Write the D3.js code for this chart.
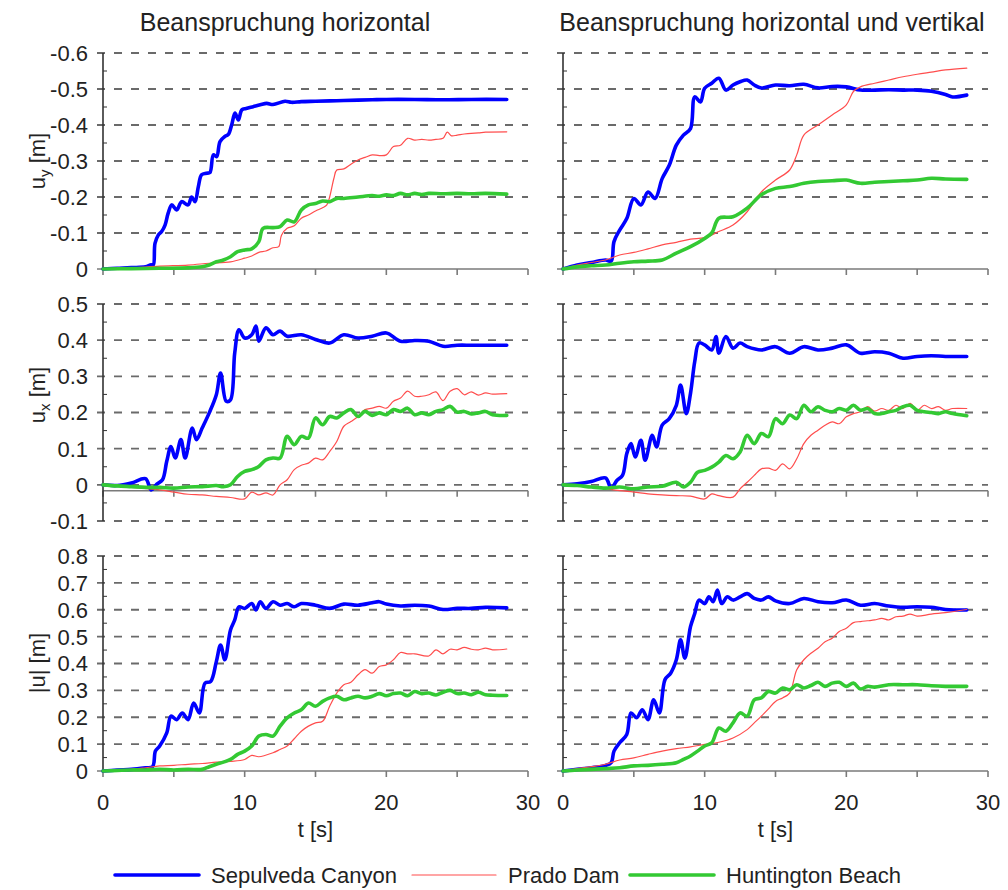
<!DOCTYPE html>
<html>
<head>
<meta charset="utf-8">
<script src="https://cdn.jsdelivr.net/npm/d3@7"></script>
<style>
  body { margin: 0; background: #fff; }
  svg { font-family: "Liberation Sans", Arial, sans-serif; }
</style>
</head>
<body>
<svg width="1008" height="890"></svg>
<script>
// the svg canvas
const svg = d3.select('svg');

// tick values
const tTicks = [0, 5, 10, 15, 20, 25, 30];
const tLabels = [0, 10, 20, 30];
const uyTicks = [0, -0.1, -0.2, -0.3, -0.4, -0.5, -0.6];
const uxTicks = [-0.1, 0, 0.1, 0.2, 0.3, 0.4, 0.5];
const uTicks = [0, 0.1, 0.2, 0.3, 0.4, 0.5, 0.6, 0.7, 0.8];

const seriesNames = ['Sepulveda Canyon', 'Prado Dam', 'Huntington Beach'];
const colTitles = ['Beanspruchung horizontal', 'Beanspruchung horizontal und vertikal'];

// [t, value] pairs
// u_y, horizontal
const uyH_sep = [[0,0],[1,-0.002],[2,-0.004],[3,-0.006],[3.4,-0.012],[3.55,-0.011],[3.67,-0.071],[3.9,-0.094],[4.14,-0.104],[4.38,-0.122],[4.6,-0.155],[4.85,-0.178],[5.2,-0.164],[5.55,-0.187],[6.0,-0.178],[6.26,-0.2],[6.5,-0.187],[6.73,-0.229],[6.96,-0.262],[7.3,-0.266],[7.55,-0.268],[7.79,-0.317],[8.02,-0.312],[8.26,-0.354],[8.6,-0.368],[8.85,-0.374],[9.08,-0.4],[9.32,-0.433],[9.55,-0.414],[9.8,-0.442],[10.1,-0.446],[10.6,-0.451],[11.1,-0.456],[11.55,-0.46],[12,-0.457],[12.85,-0.466],[13.3,-0.463],[14,-0.465],[15,-0.466],[16,-0.467],[17,-0.468],[18,-0.469],[19,-0.47],[20,-0.471],[22,-0.471],[24,-0.47],[26,-0.471],[28.5,-0.471]];
const uyH_prado = [[0,0],[2,-0.003],[4,-0.008],[6,-0.011],[7.5,-0.016],[9,-0.02],[10,-0.03],[10.5,-0.036],[11,-0.046],[11.5,-0.05],[12,-0.059],[12.4,-0.062],[12.6,-0.094],[13,-0.113],[13.5,-0.12],[14,-0.141],[14.5,-0.15],[15,-0.161],[15.5,-0.17],[15.8,-0.178],[16,-0.2],[16.3,-0.252],[16.5,-0.275],[17,-0.278],[17.5,-0.291],[18,-0.303],[18.5,-0.31],[19,-0.317],[19.5,-0.315],[20,-0.317],[20.5,-0.34],[21,-0.344],[21.5,-0.363],[22,-0.358],[22.5,-0.36],[23,-0.358],[23.5,-0.36],[24,-0.363],[24.3,-0.38],[24.6,-0.37],[25,-0.372],[25.5,-0.375],[26,-0.377],[26.5,-0.378],[27,-0.38],[28.5,-0.381]];
const uyH_hunt = [[0,0],[2,-0.001],[4,-0.002],[6,-0.003],[7,-0.006],[7.5,-0.011],[8,-0.02],[8.5,-0.025],[9,-0.034],[9.5,-0.048],[10,-0.053],[10.5,-0.056],[11,-0.076],[11.3,-0.113],[12,-0.115],[12.5,-0.118],[13,-0.136],[13.5,-0.131],[14,-0.164],[14.5,-0.178],[15,-0.182],[15.5,-0.189],[16,-0.187],[16.5,-0.196],[17,-0.196],[18,-0.2],[19,-0.204],[19.5,-0.202],[20,-0.206],[20.5,-0.204],[21,-0.21],[21.5,-0.206],[22,-0.21],[22.5,-0.207],[23,-0.21],[24,-0.209],[25,-0.21],[26,-0.209],[27,-0.21],[28.5,-0.208]];

// u_y, horizontal und vertikal
const uyHV_sep = [[0,0],[1,-0.011],[2,-0.018],[3,-0.025],[3.4,-0.022],[3.6,-0.076],[4,-0.108],[4.5,-0.14],[5,-0.196],[5.5,-0.178],[6,-0.214],[6.5,-0.196],[7,-0.251],[7.5,-0.288],[8,-0.344],[8.5,-0.372],[9,-0.39],[9.3,-0.478],[9.7,-0.464],[10,-0.502],[10.5,-0.516],[11,-0.53],[11.5,-0.497],[12,-0.511],[12.5,-0.52],[13,-0.525],[13.5,-0.511],[14,-0.503],[15,-0.511],[16,-0.509],[17,-0.513],[18,-0.503],[19,-0.507],[20,-0.506],[21,-0.497],[22,-0.497],[23,-0.498],[24,-0.497],[25,-0.497],[26,-0.494],[27,-0.485],[27.5,-0.478],[28.5,-0.483]];
const uyHV_prado = [[0,0],[1,-0.011],[2,-0.018],[3,-0.025],[4,-0.039],[5,-0.046],[6,-0.056],[7,-0.067],[8,-0.074],[9,-0.083],[10,-0.087],[11,-0.104],[12,-0.122],[13,-0.159],[14,-0.214],[15,-0.247],[16,-0.275],[16.5,-0.317],[17,-0.372],[18,-0.4],[19,-0.428],[20,-0.456],[20.5,-0.493],[21,-0.506],[22,-0.516],[23,-0.525],[24,-0.534],[25,-0.541],[26,-0.547],[27,-0.553],[28.5,-0.558]];
const uyHV_hunt = [[0,0],[1,-0.006],[2,-0.009],[3,-0.011],[4,-0.016],[5,-0.02],[6,-0.022],[7,-0.025],[8,-0.044],[9,-0.062],[10,-0.085],[10.5,-0.1],[11,-0.141],[12,-0.145],[13,-0.169],[14,-0.206],[15,-0.224],[16,-0.229],[17,-0.238],[18,-0.243],[19,-0.245],[20,-0.247],[21,-0.238],[22,-0.241],[23,-0.243],[24,-0.245],[25,-0.247],[26,-0.252],[27,-0.25],[28.5,-0.249]];

// u_x, horizontal
const uxH_sep = [[0,0],[1,-0.002],[2,0.005],[3,0.017],[3.4,-0.014],[3.8,0.002],[4.2,0.014],[4.5,0.065],[4.8,0.106],[5.1,0.074],[5.5,0.125],[5.8,0.074],[6.3,0.157],[6.6,0.125],[7,0.157],[7.5,0.199],[8,0.249],[8.3,0.309],[8.7,0.231],[9,0.235],[9.3,0.365],[9.6,0.429],[10,0.406],[10.5,0.415],[10.8,0.439],[11,0.397],[11.5,0.434],[12,0.415],[12.5,0.425],[13,0.411],[14,0.415],[15,0.402],[16,0.392],[17,0.415],[18,0.406],[19,0.411],[20,0.42],[21,0.397],[22,0.399],[23,0.397],[24,0.383],[25,0.386],[26,0.386],[27,0.386],[28.5,0.386]];
const uxH_prado = [[0,0],[2,-0.007],[4,-0.014],[5,-0.02],[6,-0.026],[7,-0.028],[8,-0.032],[9,-0.035],[10,-0.039],[10.5,-0.02],[11,-0.028],[11.5,-0.022],[12,-0.028],[12.5,0],[13,0.014],[13.5,0.042],[14,0.054],[14.5,0.06],[15,0.074],[15.5,0.069],[16,0.092],[16.5,0.12],[17,0.162],[17.5,0.175],[18,0.189],[18.5,0.208],[19,0.212],[19.5,0.217],[20,0.212],[20.5,0.231],[21,0.24],[21.5,0.259],[22,0.245],[22.5,0.245],[23,0.249],[23.5,0.257],[24,0.233],[24.5,0.259],[25,0.266],[25.5,0.249],[26,0.257],[26.5,0.248],[27,0.254],[27.5,0.251],[28.5,0.252]];
const uxH_hunt = [[0,0],[1,-0.003],[2,-0.005],[3,-0.007],[4,-0.007],[5,-0.009],[6,-0.006],[7,-0.005],[8,-0.002],[8.5,-0.005],[9,0],[9.5,0.023],[10,0.037],[10.5,0.042],[11,0.051],[11.5,0.069],[12,0.074],[12.5,0.074],[13,0.134],[13.5,0.111],[14,0.134],[14.5,0.129],[15,0.185],[15.5,0.166],[16,0.189],[16.5,0.185],[17,0.199],[17.5,0.208],[18,0.189],[18.5,0.203],[19,0.192],[19.5,0.199],[20,0.194],[20.5,0.208],[21,0.203],[21.5,0.212],[22,0.194],[22.5,0.199],[23,0.194],[23.5,0.203],[24,0.208],[24.5,0.217],[25,0.201],[25.5,0.203],[26,0.196],[26.5,0.199],[27,0.203],[27.5,0.194],[28.5,0.192]];

// u_x, horizontal und vertikal
const uxHV_sep = [[0,0],[1,0.003],[2,0.009],[3,0.019],[3.4,-0.009],[3.8,0.012],[4.2,0.026],[4.5,0.086],[4.8,0.114],[5.1,0.077],[5.5,0.123],[5.8,0.068],[6.3,0.137],[6.6,0.105],[7,0.165],[7.5,0.183],[8,0.22],[8.3,0.276],[8.7,0.197],[9,0.253],[9.3,0.341],[9.6,0.392],[10,0.387],[10.5,0.373],[10.8,0.41],[11,0.364],[11.5,0.41],[12,0.378],[12.5,0.392],[13,0.382],[14,0.373],[15,0.382],[16,0.364],[17,0.382],[18,0.373],[19,0.378],[20,0.387],[21,0.364],[22,0.368],[23,0.364],[24,0.35],[25,0.355],[26,0.357],[27,0.355],[28.5,0.355]];
const uxHV_prado = [[0,0],[2,-0.006],[4,-0.016],[5,-0.02],[6,-0.025],[7,-0.028],[8,-0.03],[9,-0.031],[10,-0.039],[10.5,-0.025],[11,-0.03],[12,-0.034],[12.5,-0.011],[13,0.007],[13.5,0.026],[14,0.044],[14.5,0.046],[15,0.04],[15.5,0.058],[16,0.044],[16.5,0.072],[17,0.114],[17.5,0.137],[18,0.151],[18.5,0.165],[19,0.174],[19.5,0.169],[20,0.188],[20.5,0.197],[21,0.202],[21.5,0.216],[22,0.204],[22.5,0.211],[23,0.206],[23.5,0.22],[24,0.211],[24.5,0.225],[25,0.206],[25.5,0.22],[26,0.211],[26.5,0.216],[27,0.206],[27.5,0.211],[28.5,0.211]];
const uxHV_hunt = [[0,0],[1,-0.002],[2,-0.006],[3,-0.009],[4,-0.006],[5,-0.011],[6,-0.006],[7,-0.004],[8,0.007],[8.5,-0.006],[9,0.007],[9.5,0.035],[10,0.04],[10.5,0.049],[11,0.063],[11.5,0.081],[12,0.072],[12.5,0.091],[13,0.137],[13.5,0.114],[14,0.142],[14.5,0.133],[15,0.183],[15.5,0.169],[16,0.193],[16.5,0.183],[17,0.22],[17.5,0.202],[18,0.216],[18.5,0.206],[19,0.202],[19.5,0.211],[20,0.206],[20.5,0.22],[21,0.206],[21.5,0.211],[22,0.197],[22.5,0.197],[23,0.202],[23.5,0.206],[24,0.216],[24.5,0.22],[25,0.206],[25.5,0.202],[26,0.2],[26.5,0.197],[27,0.202],[27.5,0.197],[28.5,0.191]];

// |u|, horizontal
const uH_sep = [[0,0],[1,0.004],[2,0.006],[3,0.012],[3.5,0.016],[3.7,0.074],[4,0.093],[4.5,0.142],[4.8,0.204],[5.2,0.191],[5.6,0.216],[6,0.191],[6.4,0.253],[6.8,0.216],[7.2,0.327],[7.6,0.333],[8,0.407],[8.3,0.469],[8.6,0.414],[9,0.525],[9.3,0.562],[9.6,0.611],[10,0.605],[10.5,0.623],[10.8,0.599],[11.1,0.63],[11.5,0.605],[12,0.63],[12.5,0.617],[13,0.623],[13.5,0.611],[14,0.623],[15,0.617],[16,0.605],[17,0.621],[18,0.617],[19,0.626],[19.5,0.63],[20,0.621],[21,0.614],[22,0.617],[23,0.614],[24,0.601],[25,0.605],[26,0.605],[27,0.609],[28.5,0.607]];
const uH_prado = [[0,0],[1,0.004],[2,0.006],[3,0.012],[4,0.019],[5,0.021],[6,0.025],[7,0.028],[8,0.033],[9,0.036],[10,0.043],[10.5,0.058],[11,0.053],[12,0.068],[12.5,0.08],[13,0.093],[13.5,0.12],[14,0.148],[14.5,0.167],[15,0.179],[15.5,0.185],[16,0.241],[16.5,0.29],[17,0.321],[17.5,0.33],[18,0.358],[18.5,0.377],[19,0.364],[19.5,0.389],[20,0.395],[20.5,0.414],[21,0.441],[21.5,0.436],[22,0.436],[23,0.428],[23.5,0.451],[24,0.436],[24.5,0.453],[25,0.451],[25.5,0.46],[26,0.453],[26.5,0.451],[27,0.457],[27.5,0.451],[28.5,0.454]];
const uH_hunt = [[0,0],[1,0.002],[2,0.004],[3,0.004],[4,0.006],[5,0.004],[6,0.006],[7,0.006],[7.5,0.016],[8,0.025],[8.5,0.033],[9,0.043],[9.5,0.062],[10,0.074],[10.5,0.093],[11,0.13],[11.5,0.136],[12,0.13],[12.5,0.167],[13,0.198],[13.5,0.216],[14,0.228],[14.5,0.253],[15,0.241],[15.5,0.259],[16,0.272],[16.5,0.278],[17,0.265],[17.5,0.272],[18,0.278],[18.5,0.272],[19,0.278],[19.5,0.288],[20,0.28],[20.5,0.288],[21,0.29],[21.5,0.28],[22,0.296],[22.5,0.288],[23,0.29],[23.5,0.283],[24,0.293],[24.5,0.3],[25,0.288],[25.5,0.29],[26,0.284],[26.5,0.293],[27,0.284],[27.5,0.282],[28.5,0.281]];

// |u|, horizontal und vertikal
const uHV_sep = [[0,0],[1,0.006],[2,0.012],[3,0.021],[3.4,0.031],[3.6,0.074],[4,0.105],[4.5,0.136],[4.8,0.216],[5.2,0.198],[5.6,0.228],[6,0.191],[6.4,0.265],[6.8,0.216],[7.2,0.34],[7.6,0.364],[8,0.414],[8.3,0.488],[8.6,0.42],[9,0.537],[9.3,0.586],[9.6,0.636],[10,0.623],[10.3,0.648],[10.6,0.63],[10.9,0.673],[11.2,0.623],[11.6,0.648],[12,0.636],[12.5,0.648],[13,0.66],[13.5,0.642],[14,0.636],[14.5,0.648],[15,0.633],[16,0.623],[17,0.642],[18,0.63],[19,0.626],[20,0.636],[21,0.617],[22,0.623],[23,0.614],[24,0.609],[25,0.611],[26,0.609],[27,0.601],[28.5,0.599]];
const uHV_prado = [[0,0],[1,0.009],[2,0.016],[3,0.025],[4,0.041],[5,0.049],[6,0.062],[7,0.074],[8,0.083],[9,0.09],[10,0.099],[11,0.107],[12,0.123],[13,0.154],[13.5,0.179],[14,0.204],[14.5,0.231],[15,0.259],[15.5,0.272],[16,0.29],[16.5,0.377],[17,0.414],[17.5,0.438],[18,0.457],[18.5,0.481],[19,0.494],[19.5,0.519],[20,0.531],[20.5,0.552],[21,0.556],[21.5,0.559],[22,0.562],[22.5,0.568],[23,0.562],[23.5,0.574],[24,0.576],[24.5,0.584],[25,0.576],[26,0.584],[27,0.589],[28.5,0.601]];
const uHV_hunt = [[0,0],[1,0.004],[2,0.006],[3,0.009],[4,0.012],[5,0.019],[6,0.021],[7,0.025],[8,0.031],[8.5,0.043],[9,0.056],[9.5,0.074],[10,0.093],[10.5,0.105],[11,0.16],[11.5,0.148],[12,0.179],[12.5,0.216],[13,0.204],[13.5,0.265],[14,0.272],[14.5,0.296],[15,0.29],[15.5,0.309],[16,0.302],[16.5,0.321],[17,0.309],[17.5,0.318],[18,0.33],[18.5,0.315],[19,0.327],[19.5,0.33],[20,0.315],[20.5,0.327],[21,0.305],[21.5,0.315],[22,0.312],[23,0.321],[24,0.321],[25,0.321],[26,0.317],[27,0.315],[28.5,0.315]];

// which series go in which panel, [row][col]
const panelData = [
  [[uyH_sep, uyH_prado, uyH_hunt], [uyHV_sep, uyHV_prado, uyHV_hunt]],
  [[uxH_sep, uxH_prado, uxH_hunt], [uxHV_sep, uxHV_prado, uxHV_hunt]],
  [[uH_sep, uH_prado, uH_hunt], [uHV_sep, uHV_prado, uHV_hunt]]
];

// line looks, same order as seriesNames
const styles = [
  {color: '#0000ff', width: 3.6},
  {color: '#ff4d4d', width: 1.2},
  {color: '#33c933', width: 3.6}
];

// layout of the panels
const cols = [{left: 103, right: 528, titleX: 285}, {left: 563, right: 988, titleX: 772}];
const rows = [
  {top: 53, bottom: 269, domain: [0, -0.6], ticks: uyTicks, axisAt: 0, labelMid: 161},
  {top: 304, bottom: 521, domain: [-0.1, 0.5], ticks: uxTicks, axisAt: -0.0165, labelMid: 395},
  {top: 556, bottom: 771, domain: [0, 0.8], ticks: uTicks, axisAt: 0, labelMid: 663}
];

const gridColor = '#6a6a6a';
const fmt = v => Math.abs(v) < 1e-9 ? '0' : (v < 0 ? '-' : '') + Math.abs(v).toFixed(1);

rows.forEach((row, ri) => {
  const yScale = d3.scaleLinear().domain(row.domain).range([row.bottom, row.top]);
  const step = row.ticks[1] - row.ticks[0];

  cols.forEach((col, ci) => {
    const xScale = d3.scaleLinear().domain([0, 30]).range([col.left, col.right]);
    const g = svg.append('g');

    // dashed gridlines (the zero line is the axis in rows 1 and 3)
    g.selectAll('line.grid')
      .data(row.ticks.filter(v => !(Math.abs(v) < 1e-9 && row.axisAt === 0)))
      .enter().append('line')
        .attr('x1', col.left - 6).attr('x2', col.right)
        .attr('y1', d => yScale(d)).attr('y2', d => yScale(d))
        .attr('stroke', gridColor)
        .attr('stroke-width', 1.8)
        .attr('stroke-dasharray', '8,9');

    // minor ticks half way between major ones
    const minors = row.ticks.slice(1).map(v => v - step / 2);
    g.selectAll('line.minor').data(minors)
      .enter().append('line')
        .attr('x1', col.left).attr('x2', col.left + 4)
        .attr('y1', d => yScale(d)).attr('y2', d => yScale(d))
        .attr('stroke', '#333').attr('stroke-width', 1);

    // x axis line and ticks
    const ax = yScale(row.axisAt);
    g.append('line')
      .attr('x1', row.axisAt === 0 ? col.left - 6 : col.left).attr('x2', col.right)
      .attr('y1', ax).attr('y2', ax)
      .attr('stroke', '#7a7a7a').attr('stroke-width', 1.6);
    g.selectAll('line.xtick').data(tTicks)
      .enter().append('line')
        .attr('x1', d => xScale(d)).attr('x2', d => xScale(d))
        .attr('y1', ax).attr('y2', ax + 6)
        .attr('stroke', '#7a7a7a').attr('stroke-width', 1.6);

    // y axis line
    g.append('line')
      .attr('x1', col.left).attr('x2', col.left)
      .attr('y1', row.top).attr('y2', row.bottom)
      .attr('stroke', '#333').attr('stroke-width', 1.6);

    // the three curves
    const line = d3.line()
      .x(d => xScale(d[0]))
      .y(d => yScale(d[1]))
      .curve(d3.curveCatmullRom.alpha(0.5));
    panelData[ri][ci].forEach((data, si) => {
      g.append('path')
        .attr('d', line(data))
        .attr('fill', 'none')
        .attr('stroke', styles[si].color)
        .attr('stroke-width', styles[si].width)
        .attr('stroke-linejoin', 'round')
        .attr('stroke-linecap', 'round');
    });

    // y tick labels on the left column only
    if (ci === 0) {
      g.selectAll('text.ytick').data(row.ticks)
        .enter().append('text')
          .attr('x', 88).attr('y', d => yScale(d))
          .attr('dy', '0.36em')
          .attr('text-anchor', 'end')
          .attr('font-size', 22)
          .attr('fill', '#222')
          .text(fmt);
    }

    // time labels under the last row
    if (ri === rows.length - 1) {
      g.selectAll('text.xtick').data(tLabels)
        .enter().append('text')
          .attr('x', d => xScale(d)).attr('y', 810)
          .attr('text-anchor', 'middle')
          .attr('font-size', 22)
          .attr('fill', '#222')
          .text(d => d);
      g.append('text')
        .attr('x', (col.left + col.right) / 2).attr('y', 837)
        .attr('text-anchor', 'middle')
        .attr('font-size', 22)
        .attr('fill', '#222')
        .text('t [s]');
    }
    // column titles
    if (ri === 0) {
      svg.append('text')
        .attr('x', col.titleX).attr('y', 31)
        .attr('text-anchor', 'middle')
        .attr('font-size', 25)
        .attr('fill', '#222')
        .text(colTitles[ci]);
    }
  });
});

// y axis titles, rotated
const yTitles = [
  {base: 'u', sub: 'y', rest: ' [m]'},
  {base: 'u', sub: 'x', rest: ' [m]'},
  {base: '|u|', sub: null, rest: ' [m]'}
];
rows.forEach((row, ri) => {
  const t = svg.append('text')
    .attr('transform', `translate(45,${row.labelMid}) rotate(-90)`)
    .attr('text-anchor', 'middle')
    .attr('font-size', 22)
    .attr('fill', '#222');
  t.append('tspan').text(yTitles[ri].base);
  if (yTitles[ri].sub) {
    t.append('tspan').attr('font-size', 15).attr('dy', 5).text(yTitles[ri].sub);
    t.append('tspan').attr('dy', -5).text(yTitles[ri].rest);
  } else {
    t.append('tspan').text(yTitles[ri].rest);
  }
});

// legend at the bottom
const legendX = [115, 412, 630];
const legend = svg.append('g');
seriesNames.forEach((name, i) => {
  legend.append('line')
    .attr('x1', legendX[i]).attr('x2', legendX[i] + 84)
    .attr('y1', 875).attr('y2', 875)
    .attr('stroke', styles[i].color)
    .attr('stroke-width', styles[i].width)
    .attr('stroke-linecap', 'round');
  legend.append('text')
    .attr('x', legendX[i] + 96).attr('y', 883)
    .attr('font-size', 22)
    .attr('fill', '#222')
    .text(name);
});
</script>
</body>
</html>
